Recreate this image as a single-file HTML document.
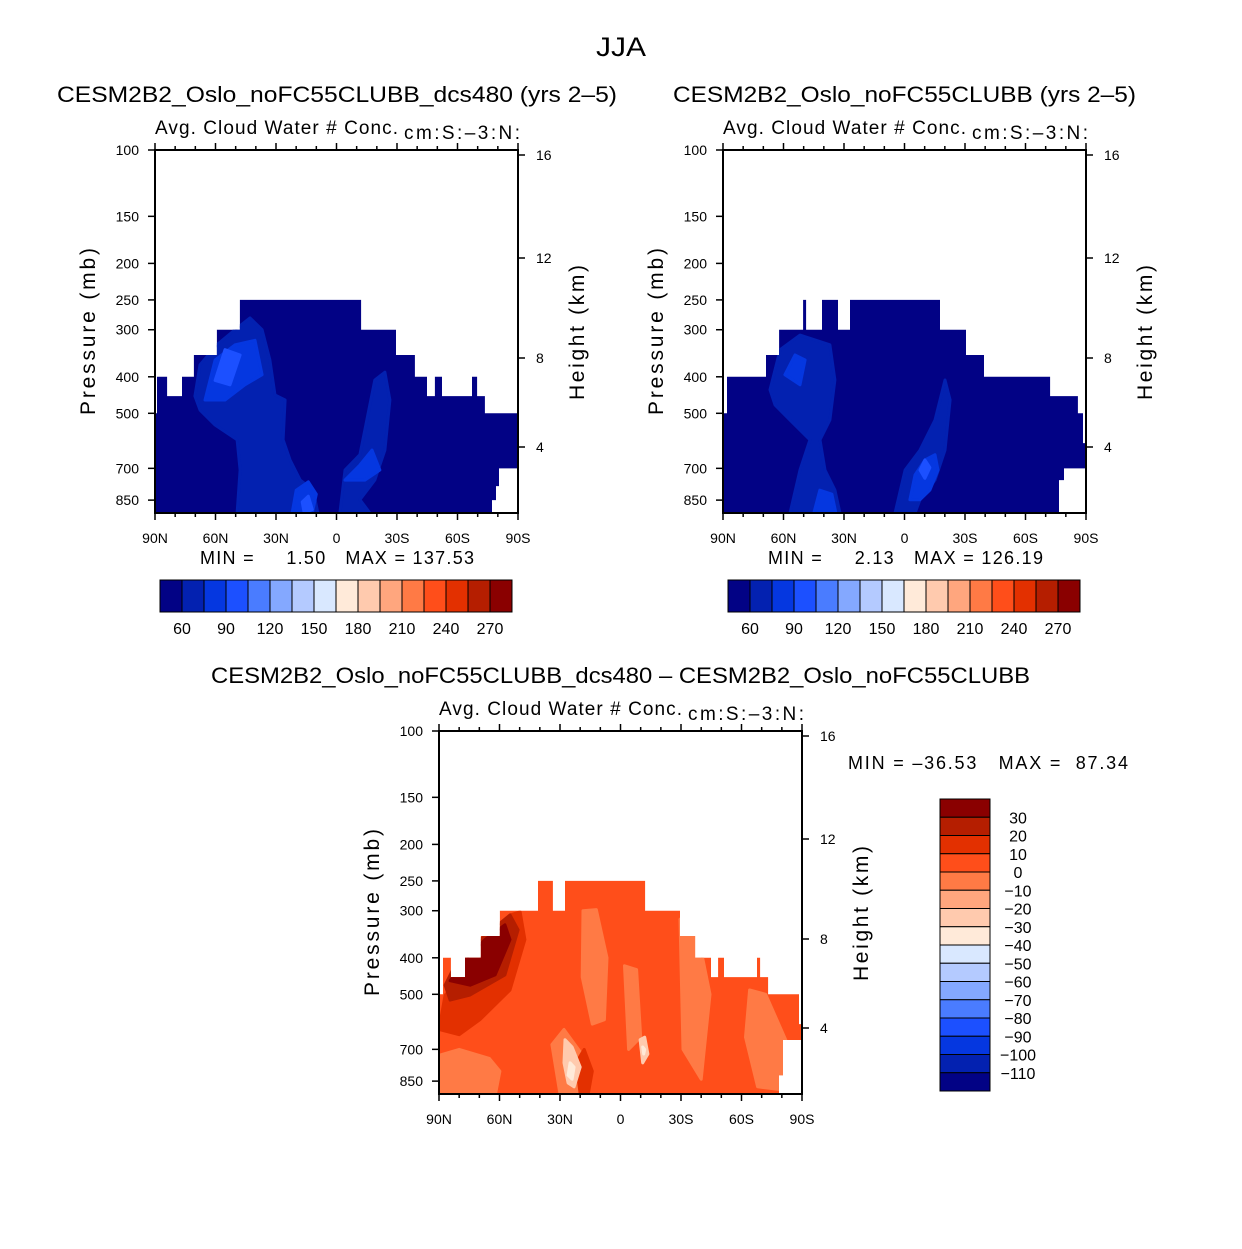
<!DOCTYPE html>
<html><head><meta charset="utf-8"><style>
html,body{margin:0;padding:0;background:#fff;}
svg text{font-family:"Liberation Sans",sans-serif;fill:#000;}
</style></head><body>
<svg id="fig" width="1242" height="1244" viewBox="0 0 1242 1244" xmlns="http://www.w3.org/2000/svg">
<text x="596" y="56" font-size="27" textLength="50" lengthAdjust="spacingAndGlyphs">JJA</text>
<text x="57" y="102" font-size="22" textLength="560" lengthAdjust="spacingAndGlyphs">CESM2B2_Oslo_noFC55CLUBB_dcs480 (yrs 2–5)</text>
<text x="673" y="102" font-size="22" textLength="463" lengthAdjust="spacingAndGlyphs">CESM2B2_Oslo_noFC55CLUBB (yrs 2–5)</text>
<text x="211" y="683" font-size="22" textLength="819" lengthAdjust="spacingAndGlyphs">CESM2B2_Oslo_noFC55CLUBB_dcs480 – CESM2B2_Oslo_noFC55CLUBB</text>
<text x="200" y="564" font-size="18" textLength="274" lengthAdjust="spacing" xml:space="preserve">MIN =     1.50   MAX = 137.53</text>
<text x="768" y="564" font-size="18" textLength="275" lengthAdjust="spacing" xml:space="preserve">MIN =     2.13   MAX = 126.19</text>
<text x="848" y="769" font-size="18" textLength="280" lengthAdjust="spacing" xml:space="preserve">MIN = –36.53   MAX =  87.34</text>
</svg>
<script>
const NS="http://www.w3.org/2000/svg";
const svg=document.getElementById('fig');
// ---- data ----
const pressTicks=[100,150,200,250,300,400,500,700,850];
const heightTicks=[4,8,12,16];
const latTickLabels=["90N","60N","30N","0","30S","60S","90S"];
const cbLabelsAbs=["60","90","120","150","180","210","240","270"];
const cbLabelsDiff=["30","20","10","0","−10","−20","−30","−40","−50","−60","−70","−80","−90","−100","−110"];
const cbColors=["#020285","#0321b0","#0537e0","#1c50ff","#4a7cff","#84a8ff","#b4caff","#d9e8ff","#ffead9","#ffcaae","#ffa67e","#ff7a45","#ff4e1a","#e33000","#b51e00","#8a0000"];
const tlLat=[90,89,84.0,76.6,70.7,59.3,47.9,-12.2,-29.5,-38.9,-44.9,-48.8,-52.3,-67.2,-69.7,-73.6,-89.5,-90];
const tlTop=[500,400,450,400,350,300,250,300,350,400,450,400,450,400,450,500,600];
const tlNotchLat=[-80.6,-79.1,-77.1];
const tlNotchP=[700,780,850];
const trLat=[90,88,68.7,62.2,50.3,48.8,40.9,33,27,-17.6,-30.5,-39.4,-72.2,-86,-88.5,-90];
const trTop=[500,400,350,300,250,300,250,300,250,300,350,400,450,500,600];
const trNotchLat=[-79.1,-76.6];
const trNotchP=[700,752];
const dfLat=[90,88,84.1,77.1,69.2,59.8,40.9,33.5,27.5,-12.2,-29.5,-37,-44.9,-48.4,-51.3,-67.7,-69.2,-73.2,-88.5,-90];
const dfTop=[500,400,450,400,350,300,250,300,250,300,350,400,450,400,450,400,450,500,600];
const dfNotchLat=[-80.6,-78.6];
const dfNotchP=[661,820];
const tlBlobs=[
 [1,[[70.2,450],[67.7,372],[59.3,329],[50.3,300],[42.9,279],[36.9,300],[33,361],[30.5,447],[25.5,461],[26.5,588],[23,665],[18,752],[11.6,799],[9.2,920],[49.3,920],[47.8,707],[49.3,588],[60.2,537],[67.7,490]]],
 [1,[[-1.7,920],[-4.2,707],[-11.6,644],[-19,408],[-24,389],[-26.5,461],[-24,626],[-19,752],[-11.6,848],[-16.6,920]]],
 [2,[[65.2,461],[60.2,361],[50.3,329],[40.4,320],[36.9,395],[45.4,420],[55.3,461]]],
 [2,[[-4.2,752],[-11.6,686],[-17.6,626],[-21.5,707],[-14.1,752]]],
 [2,[[20,800],[14,760],[10,820],[12,920],[22,920]]],
 [3,[[60.2,409],[55.3,339],[47.8,350],[52.8,420]]],
 [3,[[17,860],[14,830],[12,900],[16,920]]]
];
const trBlobs=[
 [1,[[66.7,433],[61.7,339],[51.8,310],[37,329],[34.5,408],[37,521],[41.9,588],[39.4,707],[34.5,799],[32,920],[56.8,920],[51.8,707],[46.9,588],[56.8,521],[64.2,475]]],
 [1,[[4.7,920],[-0.3,707],[-7.7,626],[-15.1,521],[-20.1,408],[-22.6,461],[-20.1,626],[-15.1,752],[-7.7,848],[-5.2,920]]],
 [2,[[-2.7,848],[-5.2,729],[-10.1,665],[-15.1,644],[-16.6,707],[-12.6,799],[-7.7,848]]],
 [2,[[59.3,395],[54.3,350],[49.3,361],[51.8,420]]],
 [2,[[45,920],[42,800],[36,820],[34,920]]],
 [3,[[-7.7,707],[-10.1,665],[-12.6,697],[-10.1,744]]]
];
const dfBlobs=[
 [11,[[89.5,725],[80,700],[65,740],[59.8,800],[62,920],[90,920]]],
 [11,[[18.6,300],[12,298],[6.7,400],[8,584],[14,600],[19,450]]],
 [11,[[-29.5,316],[-36,300],[-44.4,500],[-40,840],[-31,700]]],
 [11,[[-64,487],[-72,500],[-84,700],[-80,896],[-68,880],[-62,650]]],
 [11,[[-2,420],[-8,430],[-10,650],[-4,700]]],
 [11,[[28,620],[34,680],[30,920],[20,920],[16,760]]],
 [13,[[90,620],[87,502],[69.7,405],[59.8,348],[54.8,308],[49.8,302],[47.4,358],[54.8,487],[69.7,584],[80,640]]],
 [13,[[22,760],[18,700],[14,800],[16,920],[20,920]]],
 [14,[[87,473],[82,418],[69.7,358],[54.8,308],[50.8,337],[57.3,444],[74.6,502],[84.5,518]]],
 [15,[[84.5,460],[77.1,405],[67.2,358],[57.3,327],[54.8,358],[62.2,444],[74.6,473]]],
 [9,[[27.5,660],[24,690],[20,780],[23,880],[26,860],[28,760]]],
 [8,[[25,760],[23,780],[24,840],[26,820]]],
 [9,[[-9.7,660],[-12,650],[-13.6,720],[-11,760]]],
 [8,[[-11,690],[-12,700],[-11.5,720]]]
];
function el(tag,attrs,parent){const e=document.createElementNS(NS,tag);for(const k in attrs)e.setAttribute(k,attrs[k]);(parent||svg).appendChild(e);return e;}
function makePanel(P){
 const W=363,H=363,pBot=100*Math.exp(H/163.6);
 const X=lat=>P.x0+(90-lat)/180*W;
 const Y=p=>P.y0+Math.log(p/100)*163.6;
 const g=el('g',{});
 
 
 let pts=[[90,pBot],[90,P.top[0]]];
 for(let i=0;i<P.top.length;i++){pts.push([P.lat[i],P.top[i]]);pts.push([P.lat[i+1],P.top[i]]);}
 pts.push([-90,P.nP[0]]);
 for(let k=0;k<P.nLat.length;k++){pts.push([P.nLat[k],P.nP[k]]);const nxt=k+1<P.nP.length?P.nP[k+1]:pBot;pts.push([P.nLat[k],nxt]);}
 const d=pts.map((q,i)=>(i?'L':'M')+X(q[0]).toFixed(1)+','+Y(q[1]).toFixed(1)).join('')+'Z';
 const cp=el('clipPath',{id:P.id+'-clip'},g);el('path',{d:d},cp);
 const base=el('path',{d:d,fill:P.base},g);
 
 
 const cg=el('g',{'clip-path':'url(#'+P.id+'-clip)'},g);
 P.blobs.forEach(b=>{
  const pg=el('polygon',{points:b[1].map(q=>X(q[0]).toFixed(1)+','+Y(q[1]).toFixed(1)).join(' '),fill:cbColors[b[0]],'stroke':cbColors[b[0]],'stroke-width':3,'stroke-linejoin':'round'},cg);
  
  
 });
 el('rect',{x:P.x0,y:P.y0,width:W,height:H,fill:'none',stroke:'#000','stroke-width':2},g);
 for(let lat=90;lat>=-90;lat-=10){
  const x=X(lat),maj=lat%30===0;
  el('line',{x1:x,x2:x,y1:P.y0+H,y2:P.y0+H+(maj?7:4),stroke:'#000','stroke-width':1.5},g);
  el('line',{x1:x,x2:x,y1:P.y0,y2:P.y0+(maj?-7:-4),stroke:'#000','stroke-width':1.5},g);
 }
 latTickLabels.forEach((t,i)=>{const tx=el('text',{x:X(90-30*i),y:P.y0+H+30,'font-size':14,'text-anchor':'middle'},g);tx.textContent=t;
  });
 pressTicks.forEach(p=>{const y=Y(p);el('line',{x1:P.x0-7,x2:P.x0,y1:y,y2:y,stroke:'#000','stroke-width':1.5},g);
  const tx=el('text',{x:P.x0-16,y:y+5,'font-size':14,'text-anchor':'end'},g);tx.textContent=p;
  });
 const hY=[P.y0+5,P.y0+108,P.y0+208,P.y0+297];
 heightTicks.forEach((h,i)=>{const y=hY[3-i];el('line',{x1:P.x0+W,x2:P.x0+W+7,y1:y,y2:y,stroke:'#000','stroke-width':1.5},g);
  const tx=el('text',{x:P.x0+W+18,y:y+5,'font-size':14},g);tx.textContent=h;
  });
 let t=el('text',{x:P.x0-60,y:P.y0+265,'font-size':21,textLength:167,lengthAdjust:'spacing',transform:`rotate(-90 ${P.x0-60} ${P.y0+265})`},g);t.textContent='Pressure  (mb)';
 
 t=el('text',{x:P.x0+W+66,y:P.y0+250,'font-size':21,textLength:135,lengthAdjust:'spacing',transform:`rotate(-90 ${P.x0+W+66} ${P.y0+250})`},g);t.textContent='Height  (km)';
 
 t=el('text',{x:P.x0,y:P.y0-16,'font-size':19,textLength:243,lengthAdjust:'spacing'},g);t.textContent='Avg.  Cloud  Water  #  Conc.';
 
 t=el('text',{x:P.x0+249,y:P.y0-11,'font-size':19,textLength:116,lengthAdjust:'spacing'},g);t.textContent='cm:S:–3:N:';
 
}
makePanel({name:'left-panel',id:'tl',x0:155,y0:150,lat:tlLat,top:tlTop,nLat:tlNotchLat,nP:tlNotchP,blobs:tlBlobs,base:cbColors[0]});
makePanel({name:'right-panel',id:'tr',x0:723,y0:150,lat:trLat,top:trTop,nLat:trNotchLat,nP:trNotchP,blobs:trBlobs,base:cbColors[0]});
makePanel({name:'diff-panel',id:'df',x0:439,y0:731,lat:dfLat,top:dfTop,nLat:dfNotchLat,nP:dfNotchP,blobs:dfBlobs,base:cbColors[12]});
function hbar(x0,name){
 const g=el('g',{});
 const w=22;
 cbColors.forEach((c,i)=>{const r=el('rect',{x:x0+i*w,y:580,width:w,height:32,fill:c,stroke:'#000','stroke-width':1},g);
  });
 cbLabelsAbs.forEach((l,i)=>{const t=el('text',{x:x0+w*(2*i+1),y:634,'font-size':16,'text-anchor':'middle'},g);t.textContent=l;
  });
}
hbar(160,'left-colorbar');hbar(728,'right-colorbar');
(function(){
 const g=el('g',{});
 const h=18.25;
 cbColors.slice().reverse().forEach((c,i)=>{const r=el('rect',{x:940,y:799+i*h,width:50,height:h,fill:c,stroke:'#000','stroke-width':1},g);
  });
 cbLabelsDiff.forEach((l,i)=>{const t=el('text',{x:1018,y:799+(i+1)*h+6,'font-size':16,'text-anchor':'middle'},g);t.textContent=l;
  });
})();
</script>
</body></html>
